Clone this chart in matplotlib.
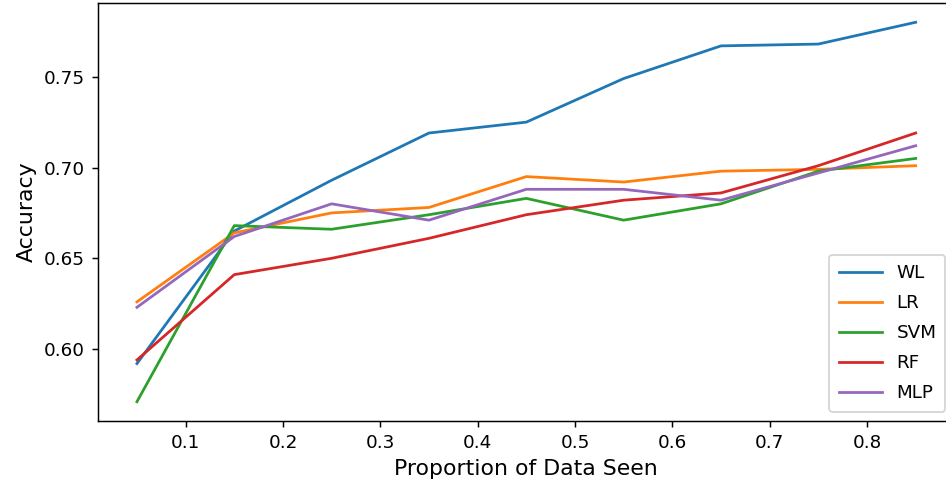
import numpy as np
import matplotlib
matplotlib.use("Agg")
import matplotlib.pyplot as plt

# proportion of training data seen
proportion = [0.05, 0.15, 0.25, 0.35, 0.45, 0.55, 0.65, 0.75, 0.85]

# accuracy per model
wl_acc = [0.592, 0.665, 0.693, 0.719, 0.725, 0.749, 0.767, 0.768, 0.780]
lr_acc = [0.626, 0.664, 0.675, 0.678, 0.695, 0.692, 0.698, 0.699, 0.701]
svm_acc = [0.571, 0.668, 0.666, 0.674, 0.683, 0.671, 0.680, 0.698, 0.705]
rf_acc = [0.594, 0.641, 0.650, 0.661, 0.674, 0.682, 0.686, 0.701, 0.719]
mlp_acc = [0.623, 0.662, 0.680, 0.671, 0.688, 0.688, 0.682, 0.697, 0.712]

model_names = ["WL", "LR", "SVM", "RF", "MLP"]

dpi = 132
fig = plt.figure(figsize=(946 / dpi, 486 / dpi), dpi=dpi)
# the original image is cropped on the right, so the axes run past the edge
ax = fig.add_axes([98 / 946, 1 - 420.7 / 486, 856.6 / 946, 417.4 / 486])

for acc, name in zip([wl_acc, lr_acc, svm_acc, rf_acc, mlp_acc], model_names):
    ax.plot(proportion, acc, label=name)

ax.set_xlabel("Proportion of Data Seen", fontsize=12)
ax.set_ylabel("Accuracy", fontsize=12)
ax.set_yticks([0.60, 0.65, 0.70, 0.75])
ax.legend(loc="lower right", labelspacing=0.66, handlelength=2.35,
          borderpad=0.5)

fig.savefig("out.png", dpi=dpi)
